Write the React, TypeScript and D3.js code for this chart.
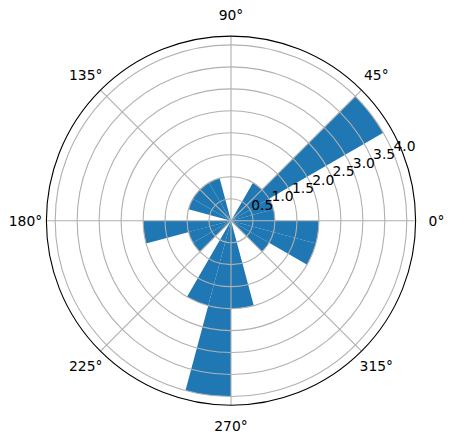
import React from "react";
import * as d3 from "d3";

const binStartsDeg = [0, 15, 30, 45, 60, 75, 90, 105, 120, 135, 150, 165, 180, 195, 210, 225, 240, 255, 270, 285, 300, 315, 330, 345];
const counts = [1, 1, 4, 1, 0, 0, 0, 1, 1, 1, 1, 0, 2, 1, 1, 0, 2, 4, 2, 0, 0, 1, 2, 2];
const binWidthDeg = 15;
const rTicks = [0.5, 1.0, 1.5, 2.0, 2.5, 3.0, 3.5, 4.0];
const thetaTicks = [0, 45, 90, 135, 180, 225, 270, 315];
const rMax = 4.2;

const W = 453;
const H = 442;
const cx = 231;
const cy = 220.7;
const R = 184.6;
const FONT = "DejaVu Sans, sans-serif";
const FS = 13.89;

export default function App() {
  const r = d3.scaleLinear().domain([0, rMax]).range([0, R]);
  const rad = (deg: number) => (deg * Math.PI) / 180;
  const arc = d3.arc<any>();

  const bars = binStartsDeg.map((a, i) => {
    const v = counts[i];
    if (v <= 0) return null;
    const d = arc({
      innerRadius: 0,
      outerRadius: r(v),
      startAngle: rad(90 - a - binWidthDeg),
      endAngle: rad(90 - a),
    });
    return <path key={"b" + i} d={d || ""} fill="#1f77b4" />;
  });

  const labelR = 205.5;
  const rLabelAngle = rad(22.5);

  return (
    <svg
      width={W}
      height={H}
      style={{ position: "absolute", left: 0, top: 0, background: "#fff" }}
      fontFamily={FONT}
    >
      <rect x={0} y={0} width={W} height={H} fill="#fff" />
      <g transform={`translate(${cx},${cy})`}>
        {bars}
        {rTicks.map((t) => (
          <circle key={"rg" + t} r={r(t)} fill="none" stroke="#b0b0b0" strokeWidth={1.1} />
        ))}
        {thetaTicks.map((t) => (
          <line
            key={"tg" + t}
            x1={0}
            y1={0}
            x2={R * Math.cos(rad(t))}
            y2={-R * Math.sin(rad(t))}
            stroke="#b0b0b0"
            strokeWidth={1.1}
          />
        ))}
        <circle r={R} fill="none" stroke="#000" strokeWidth={1.1} />
        {thetaTicks.map((t) => (
          <text
            key={"tl" + t}
            x={labelR * Math.cos(rad(t))}
            y={-labelR * Math.sin(rad(t))}
            textAnchor="middle"
            dominantBaseline="central"
            fontSize={FS}
            fill="#000"
          >
            {t + "°"}
          </text>
        ))}
        {rTicks.map((t) => (
          <text
            key={"rl" + t}
            x={r(t) * Math.cos(rLabelAngle)}
            y={-r(t) * Math.sin(rLabelAngle) - 2.5}
            textAnchor="start"
            fontSize={FS}
            fill="#000"
          >
            {t.toFixed(1)}
          </text>
        ))}
      </g>
    </svg>
  );
}
